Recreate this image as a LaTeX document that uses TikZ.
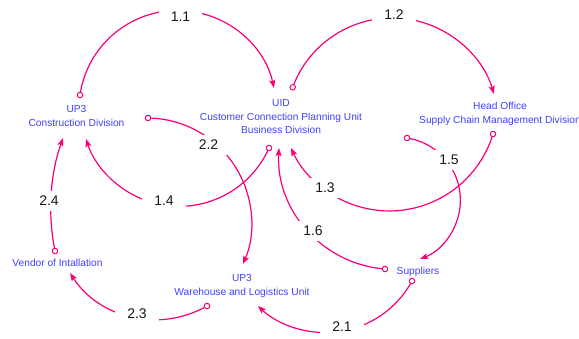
\documentclass[tikz,border=0pt]{standalone}
\usepackage{fontspec}
\setmainfont{Liberation Sans}
\usetikzlibrary{arrows.meta}

\definecolor{linkpink}{RGB}{250,0,120}
\definecolor{unitblue}{RGB}{64,64,255}
\definecolor{labelink}{RGB}{25,25,25}

\pgfdeclarelayer{paper}
\pgfdeclarelayer{links}
\pgfsetlayers{paper,links,main}

\tikzset{
  link/.style={draw=linkpink, line width=1.2pt,
    -{Stealth[length=8pt,width=6pt,inset=1.5pt]}},
  tail/.style={circle, draw=linkpink, fill=white, line width=1pt,
    minimum size=5.5pt, inner sep=0pt},
  loopnum/.style={fill=white, inner xsep=12pt, inner ysep=5pt,
    font=\fontsize{14}{16}\selectfont, text=labelink},
  unit/.style={align=center, text=unitblue, inner sep=0pt,
    font=\fontsize{10.2}{13.5}\selectfont},
}

% Circular arc from #1 through #2 to #3 (circle through the three points)
\newcommand\linkarc[3]{%
  \pgfpointanchor{#1}{center}\pgfgetlastxy\lkax\lkay
  \pgfpointanchor{#2}{center}\pgfgetlastxy\lkbx\lkby
  \pgfpointanchor{#3}{center}\pgfgetlastxy\lkcx\lkcy
  \pgfmathsetmacro\lkAx{\lkax/100}\pgfmathsetmacro\lkAy{\lkay/100}%
  \pgfmathsetmacro\lkBx{\lkbx/100}\pgfmathsetmacro\lkBy{\lkby/100}%
  \pgfmathsetmacro\lkCx{\lkcx/100}\pgfmathsetmacro\lkCy{\lkcy/100}%
  \pgfmathsetmacro\lkD{2*((\lkAx)*((\lkBy)-(\lkCy))+(\lkBx)*((\lkCy)-(\lkAy))+(\lkCx)*((\lkAy)-(\lkBy)))}%
  \pgfmathsetmacro\lkSA{(\lkAx)*(\lkAx)+(\lkAy)*(\lkAy)}%
  \pgfmathsetmacro\lkSB{(\lkBx)*(\lkBx)+(\lkBy)*(\lkBy)}%
  \pgfmathsetmacro\lkSC{(\lkCx)*(\lkCx)+(\lkCy)*(\lkCy)}%
  \pgfmathsetmacro\lkUx{((\lkSA)*((\lkBy)-(\lkCy))+(\lkSB)*((\lkCy)-(\lkAy))+(\lkSC)*((\lkAy)-(\lkBy)))/(\lkD)}%
  \pgfmathsetmacro\lkUy{((\lkSA)*((\lkCx)-(\lkBx))+(\lkSB)*((\lkAx)-(\lkCx))+(\lkSC)*((\lkBx)-(\lkAx)))/(\lkD)}%
  \pgfmathsetmacro\lkR{100*veclen((\lkAx)-(\lkUx),(\lkAy)-(\lkUy))}%
  \pgfmathsetmacro\lkS{atan2((\lkAy)-(\lkUy),(\lkAx)-(\lkUx))}%
  \pgfmathsetmacro\lkE{atan2((\lkCy)-(\lkUy),(\lkCx)-(\lkUx))}%
  \pgfmathsetmacro\lkE{ifthenelse(\lkD>0,
      ifthenelse(\lkE<\lkS,\lkE+360,\lkE),
      ifthenelse(\lkE>\lkS,\lkE-360,\lkE))}%
  \begin{pgfonlayer}{links}
    \draw[link] (#1.center) arc[start angle=\lkS, end angle=\lkE, radius=\lkR pt];
  \end{pgfonlayer}%
}

\begin{document}
\begin{tikzpicture}[x=1pt,y=-1pt]
  \begin{pgfonlayer}{paper}
    \fill[white] (0,0) rectangle (579,338);
  \end{pgfonlayer}
  \useasboundingbox (0,0) rectangle (579,338);

  % organisational units
  \node[unit] (con)    at (76.5,116) {UP3\\Construction Division};
  \node[unit] (uid)    at (281,117)  {UID\\Customer Connection Planning Unit\\Business Division};
  \node[unit] (head)   at (500,114)  {Head Office\\Supply Chain Management Division};
  \node[unit] (vendor) at (57.5,263) {Vendor of Intallation};
  \node[unit] (ware)   at (242,286)  {UP3\\Warehouse and Logistics Unit};
  \node[unit] (sup)    at (418,272)  {Suppliers};

  % link tails
  \node[tail] (s11) at (80,95) {};
  \node[tail] (s12) at (292.7,87.3) {};
  \node[tail] (s13) at (493,134) {};
  \node[tail] (s14) at (269,148) {};
  \node[tail] (s15) at (407,138) {};
  \node[tail] (s16) at (385,269) {};
  \node[tail] (s21) at (412,281) {};
  \node[tail] (s22) at (148,118) {};
  \node[tail] (s23) at (207,306) {};
  \node[tail] (s24) at (55,251) {};

  % points the arcs pass through
  \coordinate (m11) at (180.5,10.5);
  \coordinate (m12) at (395,18);
  \coordinate (m13) at (324,189);
  \coordinate (m14) at (163,205);
  \coordinate (m15) at (445,159);
  \coordinate (m16) at (309,232);
  \coordinate (m21) at (343,331);
  \coordinate (m22) at (217,145);
  \coordinate (m23) at (138,318);
  \coordinate (m24) at (51,200);

  % arrow heads
  \coordinate (e11) at (274,88);
  \coordinate (e12) at (494,94);
  \coordinate (e13) at (291,148);
  \coordinate (e14) at (86,139);
  \coordinate (e15) at (420,259);
  \coordinate (e16) at (279,148);
  \coordinate (e21) at (258,306);
  \coordinate (e22) at (243,264);
  \coordinate (e23) at (70,273);
  \coordinate (e24) at (63,138);

  % link numbers
  \node[loopnum] (l11) at (180.5,16.7) {1.1};
  \node[loopnum] (l12) at (394,15)     {1.2};
  \node[loopnum] (l13) at (325,188)    {1.3};
  \node[loopnum] (l14) at (164,201)    {1.4};
  \node[loopnum] (l15) at (449,160)    {1.5};
  \node[loopnum] (l16) at (313,231)    {1.6};
  \node[loopnum] (l21) at (342,327)    {2.1};
  \node[loopnum] (l22) at (208.5,145)  {2.2};
  \node[loopnum] (l23) at (137,314)    {2.3};
  \node[loopnum] (l24) at (49,201)     {2.4};

  % links
  \linkarc{s11}{m11}{e11}
  \linkarc{s12}{m12}{e12}
  \linkarc{s13}{m13}{e13}
  \linkarc{s14}{m14}{e14}
  \linkarc{s15}{m15}{e15}
  \linkarc{s16}{m16}{e16}
  \linkarc{s21}{m21}{e21}
  \linkarc{s22}{m22}{e22}
  \linkarc{s23}{m23}{e23}
  \linkarc{s24}{m24}{e24}
\end{tikzpicture}
\end{document}
